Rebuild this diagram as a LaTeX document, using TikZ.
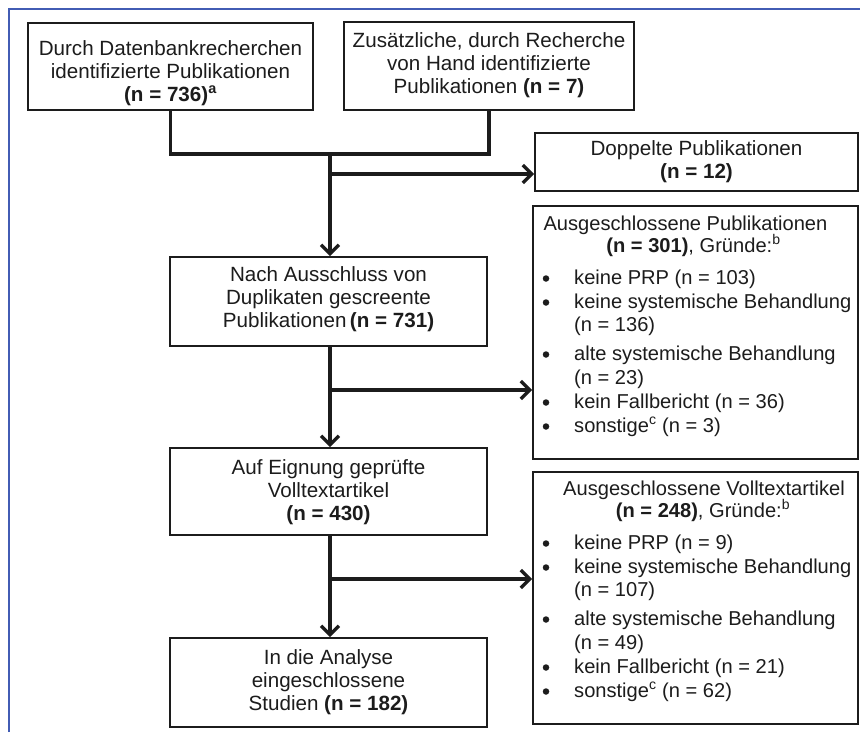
\documentclass[tikz,border=0pt]{standalone}
\usepackage{fontspec}
\setmainfont{Liberation Sans}
\usetikzlibrary{arrows.meta,calc}
\definecolor{frameblue}{RGB}{66,92,180}
\definecolor{ink}{RGB}{28,28,28}
\begin{document}
\begin{tikzpicture}[x=1pt,y=-1pt,
  box/.style={draw=ink, line width=1.6pt, inner sep=0pt, fill=white},
  txt/.style={align=center, inner sep=0pt, text=ink, font=\fontsize{20.6pt}{23pt}\selectfont},
  itm/.style={anchor=base west, inner sep=0pt, text=ink, font=\fontsize{20.1pt}{23pt}\selectfont},
  hd/.style={anchor=base, inner sep=0pt, text=ink, font=\fontsize{20.1pt}{23pt}\selectfont},
  bul/.style={circle, fill=ink, inner sep=0pt, minimum size=6.5pt},
  conn/.style={draw=ink, line width=3.4pt},
  arr/.style={conn, -{Straight Barb[length=9pt,width=18pt]}}]
\useasboundingbox (0,0) rectangle (860,732);
\fill[white] (0,0) rectangle (860,732);
% frame
\draw[frameblue, line width=2pt] (8.5,732) -- (8.5,9) -- (860,9);

% boxes
\node[box, minimum width=285pt, minimum height=87pt] (A) at (170.5,66.5) {};
\node[txt] (At) at (170.5,73) {Durch Datenbankrecherchen\\identifizierte Publikationen\\\textbf{(n = 736)}\textsuperscript{\textbf{a}}};
\node[box, minimum width=290pt, minimum height=88pt] (B) at (489,66) {};
\node[txt] (Bt) at (489,65) {Zusätzliche, durch Recherche\\von Hand identifizierte\\Publikationen \textbf{(n = 7)}};
\node[box, minimum width=323pt, minimum height=58pt] (Dop) at (696.5,162) {};
\node[txt] (Dopt) at (696.5,162) {Doppelte Publikationen\\\textbf{(n = 12)}};
\node[box, minimum width=317pt, minimum height=89pt] (C) at (328.5,301.5) {};
\node[txt] (Ct) at (328.5,299) {Nach Ausschluss von\\Duplikaten gescreente\\Publikationen\,\textbf{(n = 731)}};
\node[box, minimum width=317pt, minimum height=87pt] (D) at (328.5,491.5) {};
\node[txt] (Dt) at (328.5,492) {Auf Eignung geprüfte\\Volltextartikel\\\textbf{(n = 430)}};
\node[box, minimum width=317pt, minimum height=89pt] (E) at (328.5,682.5) {};
\node[txt] (Et) at (328.5,682) {In die Analyse\\eingeschlossene\\Studien \textbf{(n = 182)}};
\node[box, minimum width=325pt, minimum height=253pt] (X1) at (695.5,332.5) {};
\node[box, minimum width=325pt, minimum height=252pt] (X2) at (695.5,598) {};

% excluded publications list
\node[hd] (x1h1) at (685.5,230) {Ausgeschlossene Publikationen};
\node[hd] (x1h2) at (693.5,252) {\textbf{(n = 301)}, Gründe:\textsuperscript{b}};
\node[bul] (x1b1) at (546,278.5) {};
\node[itm] (x1i1) at (574,284) {keine PRP (n = 103)};
\node[bul] (x1b2) at (546,302.5) {};
\node[itm] (x1i2) at (574,308) {keine systemische Behandlung};
\node[itm] (x1i2b) at (574,331) {(n = 136)};
\node[bul] (x1b3) at (546,354.5) {};
\node[itm] (x1i3) at (574,360) {alte systemische Behandlung};
\node[itm] (x1i3b) at (574,384) {(n = 23)};
\node[bul] (x1b4) at (546,402.5) {};
\node[itm] (x1i4) at (574,408) {kein Fallbericht (n = 36)};
\node[bul] (x1b5) at (546,426.5) {};
\node[itm] (x1i5) at (574,432) {sonstige\textsuperscript{c} (n = 3)};

% excluded full texts list
\node[hd] (x2h1) at (704,495) {Ausgeschlossene Volltextartikel};
\node[hd] (x2h2) at (703,517) {\textbf{(n = 248)}, Gründe:\textsuperscript{b}};
\node[bul] (x2b1) at (546,543.5) {};
\node[itm] (x2i1) at (574,549) {keine PRP (n = 9)};
\node[bul] (x2b2) at (546,567.5) {};
\node[itm] (x2i2) at (574,573) {keine systemische Behandlung};
\node[itm] (x2i2b) at (574,596) {(n = 107)};
\node[bul] (x2b3) at (546,619.5) {};
\node[itm] (x2i3) at (574,625) {alte systemische Behandlung};
\node[itm] (x2i3b) at (574,649) {(n = 49)};
\node[bul] (x2b4) at (546,667.5) {};
\node[itm] (x2i4) at (574,673) {kein Fallbericht (n = 21)};
\node[bul] (x2b5) at (546,691.5) {};
\node[itm] (x2i5) at (574,697) {sonstige\textsuperscript{c} (n = 62)};

% connectors
\coordinate (J) at (330,154);
\draw[conn] (A.south) |- (J) -| (B.south);
\draw[arr] (J) -- (J |- C.north);
\coordinate (K1) at (330,174);
\draw[arr] (K1) -- (K1 -| Dop.west);
\draw[arr] (C.south -| J) -- (D.north -| J);
\coordinate (K2) at (330,390);
\draw[arr] (K2) -- (K2 -| X1.west);
\draw[arr] (D.south -| J) -- (E.north -| J);
\coordinate (K3) at (330,579);
\draw[arr] (K3) -- (K3 -| X2.west);
\end{tikzpicture}
\end{document}
